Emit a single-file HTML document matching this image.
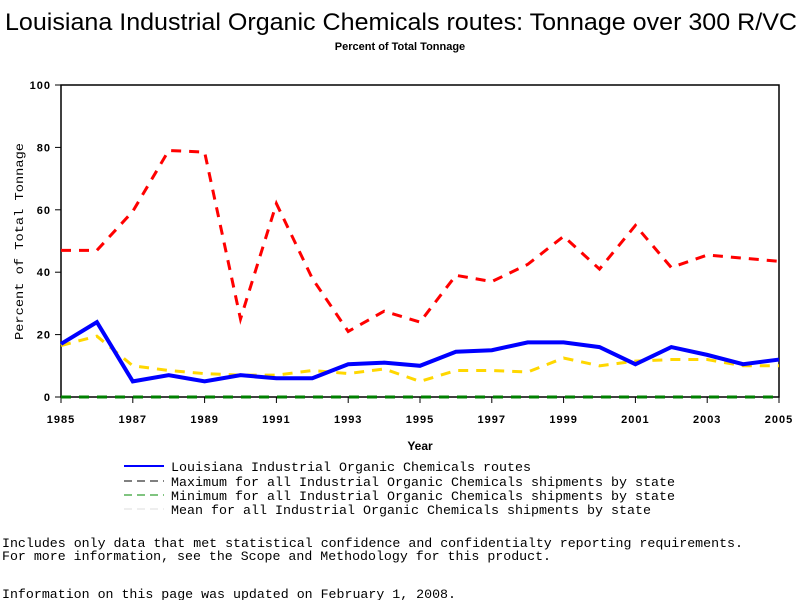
<!DOCTYPE html>
<html><head><meta charset="utf-8"><style>
body{margin:0;background:#fff;width:800px;height:600px;overflow:hidden;font-family:"Liberation Sans",sans-serif}
svg text{font-family:"Liberation Sans",sans-serif}
svg text.mono{font-family:"Liberation Mono",monospace}
</style></head><body>
<svg id="c" width="800" height="600">
<text x="5" y="30" font-size="24" textLength="792" lengthAdjust="spacingAndGlyphs">Louisiana Industrial Organic Chemicals routes: Tonnage over 300 R/VC</text>
<text x="400" y="50" text-anchor="middle" font-size="11" font-weight="bold">Percent of Total Tonnage</text>
<rect x="61" y="85" width="718" height="312" fill="none" stroke="#000" stroke-width="1.5"/>
<text transform="translate(23,340) rotate(-90)" font-size="12" class="mono" textLength="197" lengthAdjust="spacingAndGlyphs">Percent of Total Tonnage</text>
<text x="420" y="450" text-anchor="middle" font-size="12" font-weight="bold">Year</text>
<g id="axes"></g><g id="series"></g>
<g font-size="13">
<line x1="124" y1="466" x2="164" y2="466" stroke="#00f" stroke-width="2"/>
<text x="171" y="471" class="mono" font-size="13" textLength="360" lengthAdjust="spacingAndGlyphs">Louisiana Industrial Organic Chemicals routes</text>
<line x1="124" y1="481" x2="164" y2="481" stroke="#000" stroke-dasharray="8,5"/>
<text x="171" y="486" class="mono" font-size="13" textLength="504" lengthAdjust="spacingAndGlyphs">Maximum for all Industrial Organic Chemicals shipments by state</text>
<line x1="124" y1="495" x2="164" y2="495" stroke="#080" stroke-dasharray="8,5"/>
<text x="171" y="500" class="mono" font-size="13" textLength="504" lengthAdjust="spacingAndGlyphs">Minimum for all Industrial Organic Chemicals shipments by state</text>
<line x1="124" y1="509" x2="164" y2="509" stroke="#ddd" stroke-dasharray="8,5"/>
<text x="171" y="514" class="mono" font-size="13" textLength="480" lengthAdjust="spacingAndGlyphs">Mean for all Industrial Organic Chemicals shipments by state</text>
</g>
<text x="2" y="547" font-size="13" class="mono" textLength="741" lengthAdjust="spacingAndGlyphs">Includes only data that met statistical confidence and confidentialty reporting requirements.</text>
<text x="2" y="560" font-size="13" class="mono" textLength="549" lengthAdjust="spacingAndGlyphs">For more information, see the Scope and Methodology for this product.</text>
<text x="2" y="598" font-size="13" class="mono" textLength="454" lengthAdjust="spacingAndGlyphs">Information on this page was updated on February 1, 2008.</text>
</svg>
<script>
const years=[1985,1986,1987,1988,1989,1990,1991,1992,1993,1994,1995,1996,1997,1998,1999,2000,2001,2002,2003,2004,2005];
const routes=[17,24,5,7,5,7,6,6,10.5,11,10,14.5,15,17.5,17.5,16,10.5,16,13.5,10.5,12];
const maxVals=[47,47,59.5,79,78.5,25,62,38,21,27.5,24,39,37,42.5,51.5,41,55,41.5,45.5,44.5,43.5];
const minVals=[0,0,0,0,0,0,0,0,0,0,0,0,0,0,0,0,0,0,0,0,0];
const meanVals=[16.5,19.5,10,8.5,7.5,7,7,8.5,7.5,9,5,8.5,8.5,8,12.5,10,11.5,12,12,10,10];
const yTicks=[0,20,40,60,80,100];
const xTicks=[1985,1987,1989,1991,1993,1995,1997,1999,2001,2003,2005];
const NS="http://www.w3.org/2000/svg";
const X=v=>61+(v-1985)*(718/20), Y=v=>397-v*3.12;
const ax=document.getElementById('axes'), sr=document.getElementById('series');
function mk(p,t,a){const e=document.createElementNS(NS,t);for(const k in a)e.setAttribute(k,a[k]);p.appendChild(e);return e;}
yTicks.forEach(t=>{
 const l=mk(ax,'line',{x1:55,x2:61,y1:Y(t),y2:Y(t),stroke:'#000'});
 
 
 const tx=mk(ax,'text',{x:51,y:Y(t)+4,'text-anchor':'end','font-size':11,'font-weight':'bold','letter-spacing':1});tx.textContent=t;
 
 
});
xTicks.forEach(t=>{
 const l=mk(ax,'line',{x1:X(t),x2:X(t),y1:397,y2:403,stroke:'#000'});
 
 
 const tx=mk(ax,'text',{x:X(t),y:423,'text-anchor':'middle','font-size':11,'font-weight':'bold','letter-spacing':1});tx.textContent=t;
 
 
});
function line(vals,color,w,dash,name){
 const p=mk(sr,'polyline',{points:vals.map((v,i)=>X(years[i])+','+Y(v)).join(' '),fill:'none',stroke:color,'stroke-width':w,'stroke-dasharray':dash});
 
 
}
line(minVals,'#008000',3,'10,8','min-line');
line(meanVals,'#ffd700',3,'10,8','mean-line');
line(maxVals,'#f00',3,'10,8','max-line');
line(routes,'#00f',4,'none','routes-line');
</script>
</body></html>
